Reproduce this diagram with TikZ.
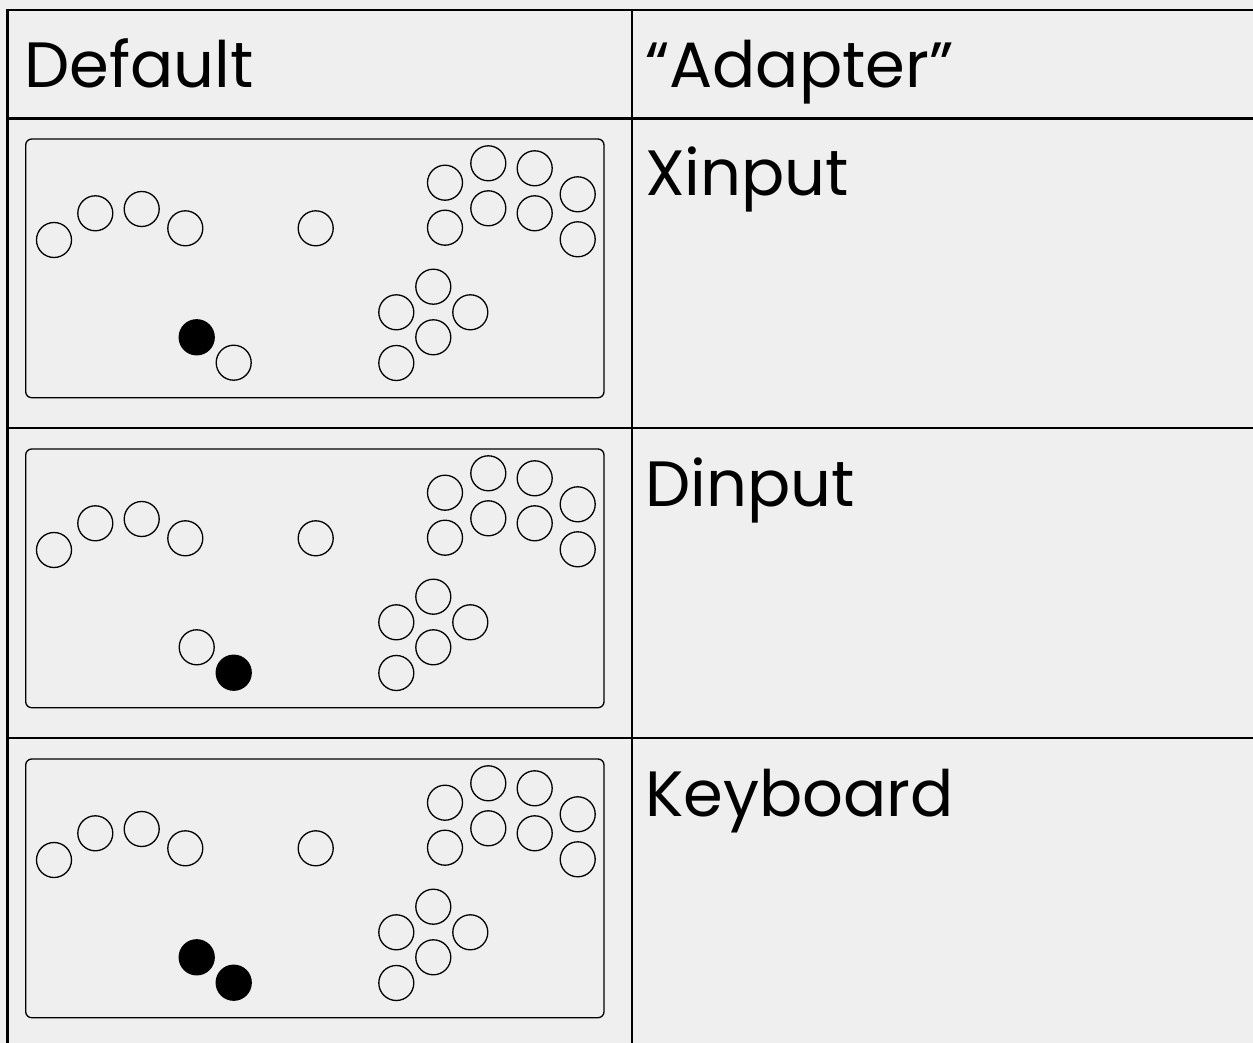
\documentclass[tikz,border=0pt]{standalone}
\usepackage{fontspec}
\setmainfont{Poppins}
\definecolor{paper}{HTML}{EFEFEF}
\begin{document}
\begin{tikzpicture}[x=1pt,y=-1pt,
  rule/.style={line width=2.6pt, black, line cap=rect},
  pad/.style={draw, line width=1.3pt, rounded corners=6pt},
  btn/.style={circle, draw, line width=1.3pt, minimum size=35pt, inner sep=0pt},
  btnon/.style={btn, fill=black},
  celltext/.style={anchor=base west, inner sep=0pt, font=\fontsize{64}{64}\selectfont}]
% canvas
\fill[paper] (0,0) rectangle (1253,1043);
\useasboundingbox (0,0) rectangle (1253,1043);

% table rules
\coordinate (tl) at (7.5,10);
\coordinate (tr) at (1260,10);
\coordinate (bl) at (7.5,1050);
\coordinate (mt) at (632,10);
\coordinate (mb) at (632,1050);
\draw[rule] (tr) -- (tl) -- (bl);
\draw[rule] (mt) -- (mb);
\foreach \yy in {118.5,428,738}
  \draw[rule] (7.5,\yy) -- (1260,\yy);

% header
\node[celltext] (hdefault) at (24,88) {Default};
\node[celltext] (hadapter) at (645,88) {“Adapter”};

% mode names
\node[celltext] (mx) at (645,196) {Xinput};
\node[celltext] (md) at (645,506) {Dinput};
\node[celltext] (mk) at (645,816) {Keyboard};

% one controller layout per row; the two stick buttons change fill
\foreach \r/\sa/\sb in {1/btnon/btn, 2/btn/btnon, 3/btnon/btnon}{
  \begin{scope}[yshift={-(\r-1)*310pt}]
    \draw[pad] (25.7,139) rectangle (604,397.7);
    % left arc
    \node[btn] (p\r-l1) at (54,240) {};
    \node[btn] (p\r-l2) at (95.3,213.3) {};
    \node[btn] (p\r-l3) at (141.7,209) {};
    \node[btn] (p\r-l4) at (185.3,228.3) {};
    \node[btn] (p\r-c)  at (315.7,228.3) {};
    % right block
    \node[btn] (p\r-t1) at (445,182.7) {};
    \node[btn] (p\r-t2) at (488.3,163.3) {};
    \node[btn] (p\r-t3) at (534.7,168.3) {};
    \node[btn] (p\r-t4) at (577.7,194.3) {};
    \node[btn] (p\r-u1) at (445,227.7) {};
    \node[btn] (p\r-u2) at (488.3,208.3) {};
    \node[btn] (p\r-u3) at (534.7,213.3) {};
    \node[btn] (p\r-u4) at (577.7,239.3) {};
    % lower cluster
    \node[btn] (p\r-d1) at (433.3,286.7) {};
    \node[btn] (p\r-d2) at (396.3,312.3) {};
    \node[btn] (p\r-d3) at (470.3,312.3) {};
    \node[btn] (p\r-d4) at (433.3,337.3) {};
    \node[btn] (p\r-d5) at (396.3,363) {};
    % stick pair
    \node[\sa] (p\r-sa) at (196.7,337.3) {};
    \node[\sb] (p\r-sb) at (233.7,362.7) {};
  \end{scope}
}
\end{tikzpicture}
\end{document}
